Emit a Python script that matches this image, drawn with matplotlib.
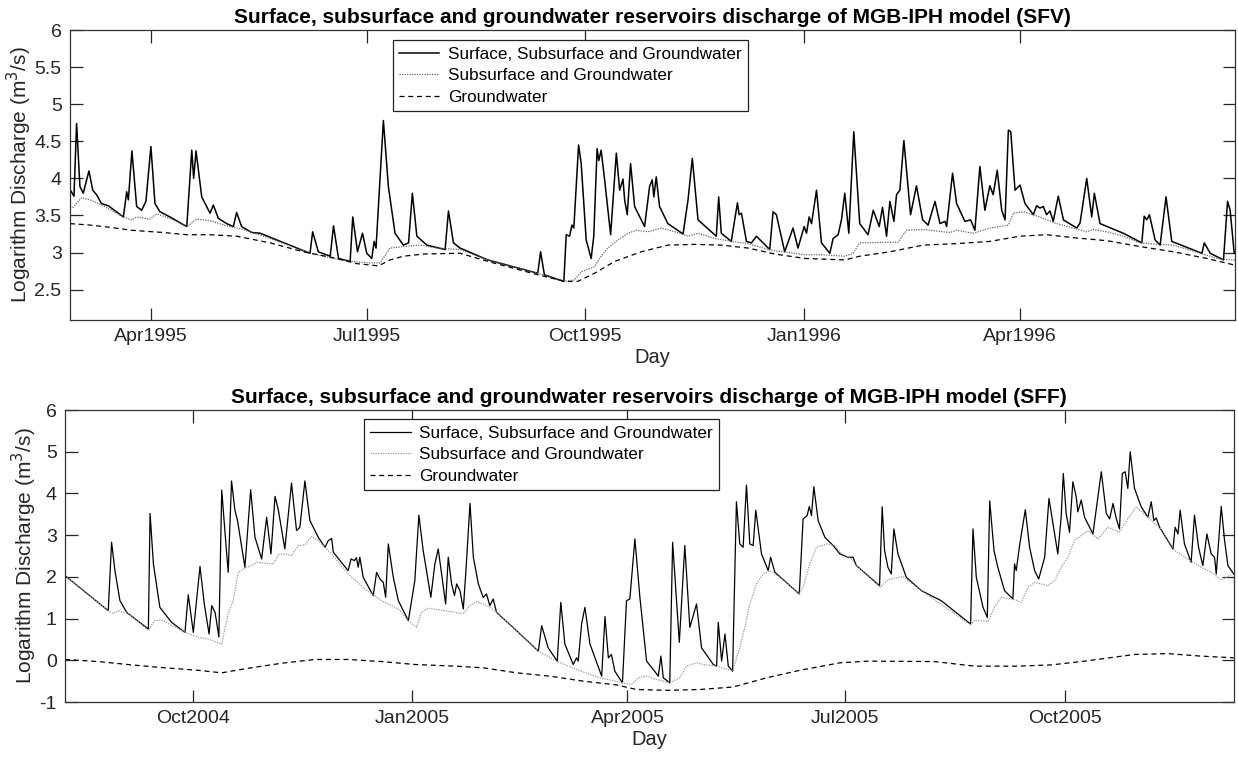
import datetime as dt
import matplotlib
matplotlib.use("Agg")
import matplotlib.pyplot as plt
import matplotlib.dates as mdates
from matplotlib.ticker import FormatStrFormatter

# ---- SFV (top panel): days counted from 1995-02-26 ----
sfv_start = dt.datetime(1995, 2, 26)

sfv_total_days = [0, 1.7, 2.8, 4.2, 5.6, 8.0, 9.6, 11.2, 13.3, 16.2, 22.5, 23.9, 24.6, 26.1, 28.1, 30.2,
                  32.0, 34.1, 35.8, 37.9, 42.1, 49.2, 51.3, 52.1, 53.1, 55.5, 59.0, 60.4, 62.5, 66.0, 68.8,
                  70.2, 72.3, 76.5, 80.1, 101.1, 102.2, 104.6, 109.6, 111.0, 113.1, 118.0, 119.1, 121.1,
                  123.2, 125.0, 127.1, 128.1, 128.9, 132.0, 134.1, 136.9, 140.4, 142.6, 144.2, 146.1,
                  150.3, 158.0, 159.4, 161.5, 164.3, 176.0, 197.0, 198.2, 199.8, 208.0, 209.0, 210.4,
                  211.4, 212.2, 214.2, 215.3, 217.4, 219.5, 220.6, 222.0, 222.7, 223.7, 225.1, 227.7,
                  230.1, 231.5, 232.9, 233.6, 234.7, 236.1, 237.8, 242.0, 244.1, 245.2, 245.9, 246.9,
                  248.3, 251.8, 258.2, 260.3, 262.1, 264.5, 272.2, 273.2, 274.3, 278.5, 281.1, 281.8,
                  282.8, 284.9, 287.0, 289.1, 294.7, 296.1, 297.5, 301.0, 304.5, 306.6, 309.2, 310.2,
                  311.3, 312.3, 314.4, 316.5, 320.0, 321.4, 323.5, 324.9, 326.3, 328.0, 330.1, 332.6,
                  336.1, 338.3, 340.8, 342.2, 343.9, 345.3, 347.0, 348.1, 349.5, 351.2, 354.0, 356.5,
                  359.1, 361.4, 364.3, 366.4, 368.5, 369.2, 371.7, 373.4, 376.9, 379.3, 381.1, 383.2,
                  385.3, 387.4, 388.8, 390.5, 392.4, 393.8, 395.2, 396.2, 398.0, 400.1, 402.2, 405.7,
                  407.1, 408.5, 409.9, 411.3, 412.7, 414.1, 416.2, 418.4, 424.0, 425.4, 428.2, 430.3,
                  431.4, 433.8, 443.6, 451.4, 452.4, 453.5, 454.6, 457.0, 459.1, 461.6, 464.0, 476.7,
                  477.7, 480.2, 485.8, 487.5, 488.6, 490.3]
sfv_total = [3.85, 3.76, 4.74, 3.89, 3.80, 4.10, 3.84, 3.78, 3.66, 3.63, 3.48, 3.82, 3.71, 4.37, 3.62, 3.57,
             3.69, 4.43, 3.66, 3.55, 3.48, 3.35, 4.38, 4.00, 4.37, 3.75, 3.53, 3.64, 3.46, 3.39, 3.35,
             3.54, 3.35, 3.27, 3.26, 2.99, 3.28, 3.01, 2.95, 3.36, 2.92, 2.88, 3.48, 3.01,
             3.26, 2.99, 2.92, 3.15, 3.06, 4.78, 3.89, 3.26, 3.10, 3.13, 3.80, 3.22,
             3.10, 3.04, 3.56, 3.13, 3.06, 2.90, 2.72, 3.01, 2.70, 2.61, 3.24, 3.22,
             3.37, 3.33, 4.45, 4.20, 3.17, 2.92, 3.22, 4.40, 4.24, 4.38, 4.00, 3.24,
             4.34, 3.84, 3.99, 3.71, 3.51, 4.20, 3.62, 3.35, 3.89, 3.98, 3.75, 4.02,
             3.62, 3.39, 3.25, 3.71, 4.27, 3.44, 3.22, 3.75, 3.26, 3.15, 3.67, 3.51,
             3.53, 3.15, 3.13, 3.22, 3.04, 3.55, 3.51, 3.01, 3.33, 3.06, 3.35, 3.26,
             3.48, 3.39, 3.84, 3.13, 2.99, 3.19, 3.24, 3.44, 3.80, 3.26, 4.63, 3.39,
             3.24, 3.57, 3.35, 3.61, 3.22, 3.69, 3.42, 3.78, 3.84, 4.51, 3.51, 3.90,
             3.44, 3.37, 3.69, 3.39, 3.42, 3.35, 4.07, 3.66, 3.42, 3.44, 3.30, 4.16,
             3.57, 3.90, 3.78, 4.11, 3.57, 3.44, 4.65, 4.63, 3.84, 3.91, 3.66, 3.51,
             3.63, 3.60, 3.62, 3.51, 3.56, 3.42, 3.76, 3.44, 3.33, 3.40, 4.00, 3.48,
             3.80, 3.39, 3.26, 3.13, 3.49, 3.44, 3.51, 3.17, 3.10, 3.75, 3.15, 2.99,
             3.13, 2.99, 2.90, 3.69, 3.57, 2.99]

sfv_sub_days = [0, 1.5, 4.9, 8.4, 14.0, 22.5, 26.0, 28.1, 33.7, 36.5, 42.1, 49.2, 53.4, 59.0, 66.0, 73.0,
                84.3, 101.1, 112.4, 118.0, 126.4, 130.6, 134.8, 140.4, 147.5, 154.5, 164.3, 176.0, 197.0,
                208.0, 212.5, 215.3, 220.9, 223.7, 226.5, 230.8, 235.0, 238.5, 243.4, 249.0, 254.7,
                260.3, 264.5, 271.5, 278.5, 285.6, 295.4, 309.5, 316.5, 326.3, 329.8, 332.6, 348.8,
                352.3, 359.3, 370.6, 373.4, 380.4, 387.4, 395.2, 397.3, 401.5, 408.5, 415.5, 422.6,
                428.2, 431.0, 436.6, 443.6, 450.7, 457.7, 464.7, 476.0, 484.4, 490.6]
sfv_sub = [3.61, 3.61, 3.74, 3.71, 3.63, 3.48, 3.44, 3.48, 3.45, 3.52, 3.46, 3.35, 3.45, 3.43, 3.36, 3.31,
           3.19, 2.99, 2.91, 2.88, 2.86, 2.86, 3.06, 3.08, 3.10, 3.06, 3.04, 2.90, 2.72,
           2.61, 2.63, 2.74, 2.81, 2.95, 3.06, 3.17, 3.26, 3.30, 3.28, 3.33, 3.28,
           3.22, 3.26, 3.19, 3.15, 3.12, 3.03, 2.97, 2.97, 2.95, 2.99, 3.13, 3.14,
           3.30, 3.31, 3.27, 3.30, 3.26, 3.33, 3.37, 3.53, 3.55, 3.48, 3.39, 3.33,
           3.28, 3.31, 3.28, 3.22, 3.13, 3.11, 3.10, 2.99, 2.91, 2.90]

sfv_gw_days = [0, 8.4, 16.9, 26.0, 39.3, 49.2, 59.0, 70.2, 84.3, 98.3, 112.4, 120.8, 129.9, 134.8, 140.4,
               148.9, 164.3, 176.0, 197.0, 208.5, 213.8, 220.9, 229.4, 240.6, 251.8, 263.1, 274.3,
               285.6, 296.8, 309.5, 326.3, 332.6, 345.3, 359.3, 373.4, 387.4, 400.1, 411.3, 422.6,
               436.6, 450.7, 464.7, 478.8, 490.6]
sfv_gw = [3.39, 3.37, 3.34, 3.30, 3.27, 3.24, 3.24, 3.22, 3.13, 3.01, 2.92, 2.85, 2.82, 2.90, 2.95,
          2.98, 2.99, 2.88, 2.70, 2.61, 2.61, 2.72, 2.88, 3.01, 3.10, 3.11, 3.10,
          3.06, 2.98, 2.92, 2.90, 2.95, 3.01, 3.10, 3.12, 3.15, 3.22, 3.24, 3.20,
          3.16, 3.08, 3.01, 2.92, 2.83]

# ---- SFF (bottom panel): days counted from 2004-08-08 ----
sff_start = dt.datetime(2004, 8, 8)

sff_total_days = [0.6, 18.7, 20.1, 21.5, 23.6, 26.4, 35.5, 36.2, 37.6, 40.3, 45.2, 50.8, 52.2, 54.3, 57.1,
                  58.9, 60.9, 62.0, 63.4, 64.1, 65.0, 66.2, 67.5, 68.9, 70.3, 71.7, 72.8, 75.9, 78.3,
                  80.1, 82.9, 85.0, 86.8, 88.5, 89.9, 92.6, 95.4, 97.5, 98.9, 101.0, 103.1, 106.6,
                  109.4, 110.8, 112.2, 112.9, 119.1, 120.3, 121.7, 122.6, 123.3, 124.0, 125.4, 129.6,
                  131.0, 132.4, 133.8, 134.8, 135.9, 138.0, 140.1, 144.3, 147.0, 148.7, 150.5, 151.9,
                  153.7, 155.4, 156.8, 158.2, 159.9, 161.0, 162.4, 163.6, 164.5, 165.9, 167.3, 168.4,
                  170.1, 171.5, 173.6, 175.6, 177.0, 178.4, 179.8, 181.2, 189.6, 198.7, 200.1, 202.8,
                  206.6, 208.1, 209.8, 213.3, 214.7, 215.4, 216.8, 218.2, 220.3, 225.2, 226.6, 228.0,
                  229.3, 230.7, 233.9, 235.6, 237.0, 239.1, 241.2, 244.0, 246.8, 248.9, 250.0, 251.0,
                  253.7, 254.9, 257.7, 260.0, 262.1, 264.9, 267.0, 271.9, 273.3, 274.0, 275.4, 276.8,
                  278.2, 280.0, 281.6, 283.0, 284.4, 285.8, 287.2, 288.6, 289.7, 292.1, 294.9, 295.9,
                  297.7, 307.9, 309.5, 311.2, 312.1, 313.0, 314.0, 315.8, 318.6, 322.1, 324.9, 328.3,
                  330.4, 331.8, 341.5, 342.6, 343.6, 345.0, 346.4, 347.5, 349.2, 352.7, 359.0, 367.3,
                  379.6, 380.6, 382.0, 384.8, 386.6, 387.6, 389.4, 391.0, 393.8, 397.3, 398.0, 398.7,
                  400.1, 402.5, 404.3, 406.4, 408.1, 410.6, 412.4, 414.1, 416.1, 417.5, 418.4, 419.6,
                  421.0, 422.4, 423.8, 424.5, 425.9, 427.3, 430.8, 432.9, 434.3, 436.4, 437.8, 439.2,
                  440.6, 441.9, 443.1, 444.3, 445.4, 446.4, 448.2, 451.0, 453.8, 455.2, 456.3, 457.3,
                  458.7, 464.3, 465.2, 466.4, 467.3, 469.1, 471.9, 473.3, 475.0, 476.8, 478.5, 480.3,
                  481.7, 482.4, 484.5, 485.9, 487.3, 489.7]
sff_total = [2.03, 1.19, 2.83, 2.15, 1.43, 1.15, 0.75, 3.52, 2.31, 1.27, 0.91, 0.67, 1.57, 0.67, 2.25,
             1.35, 0.63, 1.31, 1.15, 0.90, 0.56, 4.08, 3.11, 2.11, 4.30, 3.60, 3.35, 2.23, 4.09,
             2.95, 2.43, 3.43, 2.55, 3.93, 3.60, 2.67, 4.25, 3.11, 3.19, 4.30, 3.35, 2.95,
             2.71, 2.87, 2.92, 2.59, 2.15, 2.43, 2.39, 2.46, 2.23, 2.47, 1.99, 1.55,
             2.11, 1.95, 1.87, 1.51, 2.79, 1.99, 1.43, 0.95, 1.91, 3.48, 2.63, 2.15,
             1.51, 2.31, 2.67, 2.07, 1.35, 2.47, 1.83, 1.55, 1.83, 1.67, 1.23, 2.15,
             3.76, 2.47, 1.83, 1.51, 1.59, 1.31, 1.47, 1.15, 0.71, 0.22, 0.83, 0.30,
             -0.02, 1.39, 0.39, -0.10, 0.06, -0.02, 0.87, 1.27, 0.39, -0.38, 1.05, 0.06,
             0.14, -0.26, -0.54, 1.43, 1.47, 2.91, 1.51, -0.02, -0.22, -0.38, 0.10, -0.42,
             -0.54, 2.83, 0.43, 2.75, 0.79, 1.35, 0.30, -0.10, -0.14, 0.91, -0.02, 0.63,
             -0.14, -0.26, 3.80, 2.79, 2.71, 4.20, 2.79, 2.75, 3.60, 2.55, 2.15, 2.47,
             2.11, 1.59, 3.39, 3.47, 3.69, 3.47, 4.16, 3.35, 2.95, 2.75, 2.55, 2.47,
             2.47, 2.27, 1.79, 3.68, 2.63, 2.23, 2.07, 3.15, 2.55, 1.99, 1.67, 1.43,
             0.87, 3.15, 1.99, 1.27, 1.03, 3.82, 2.63, 2.23, 1.67, 1.47, 2.31, 2.15,
             2.75, 3.61, 2.71, 2.15, 1.95, 2.47, 3.88, 3.27, 2.55, 3.43, 4.48, 3.52,
             3.07, 4.28, 3.92, 3.56, 3.84, 3.43, 3.03, 3.92, 4.52, 3.52, 3.39, 3.76,
             3.39, 3.15, 4.48, 4.52, 4.12, 5.00, 4.12, 3.68, 3.43, 3.80, 3.35, 3.41,
             3.19, 2.67, 3.19, 3.03, 3.60, 2.79, 2.35, 3.48, 2.71, 2.27, 3.03, 2.55,
             2.47, 2.07, 3.69, 2.87, 2.27, 2.07]

sff_sub_days = [0.6, 18.7, 20.8, 22.9, 27.1, 35.5, 38.0, 41.0, 50.8, 56.4, 60.6, 66.2, 68.9, 71.0, 73.1,
                76.6, 78.7, 80.8, 84.3, 87.8, 89.9, 92.6, 95.4, 98.2, 101.0, 103.8, 106.6, 112.2,
                119.1, 126.1, 133.1, 140.1, 144.3, 147.7, 149.8, 152.6, 158.2, 163.8, 167.3, 170.1,
                172.9, 175.6, 178.4, 181.2, 189.6, 198.7, 206.3, 214.7, 224.5, 234.2, 237.7, 240.5,
                244.0, 248.2, 253.7, 257.9, 260.7, 264.9, 267.7, 273.3, 280.0, 283.0, 285.1, 287.2,
                290.0, 292.8, 295.6, 299.8, 307.9, 309.5, 312.3, 315.1, 319.3, 322.8, 324.9, 329.7,
                331.8, 341.8, 345.0, 351.3, 359.0, 379.6, 381.3, 386.9, 389.6, 392.4, 397.3, 400.8,
                403.6, 406.4, 412.0, 414.8, 417.5, 420.3, 423.1, 428.7, 432.9, 437.1, 441.9, 445.4,
                448.9, 453.8, 459.4, 465.0, 470.5, 476.1, 480.3, 484.5, 488.7]
sff_sub = [2.03, 1.19, 1.12, 1.19, 1.12, 0.72, 0.95, 0.97, 0.67, 0.55, 0.51, 0.39, 1.12, 1.43, 2.11,
           2.23, 2.27, 2.35, 2.33, 2.31, 2.54, 2.55, 2.51, 2.75, 2.77, 2.97, 2.87, 2.55,
           2.07, 1.71, 1.43, 1.23, 0.95, 0.79, 1.15, 1.25, 1.20, 1.15, 1.12, 1.31,
           1.41, 1.35, 1.27, 1.15, 0.71, 0.22, -0.02, -0.22, -0.42, -0.54, -0.58, -0.42,
           -0.38, -0.46, -0.54, -0.42, -0.14, -0.06, -0.10, -0.14, -0.26, 0.30, 0.79, 1.35,
           1.83, 2.07, 2.15, 1.99, 1.59, 1.75, 2.31, 2.71, 2.79, 2.75, 2.59, 2.43,
           2.27, 1.75, 1.93, 2.01, 1.67, 0.85, 0.96, 0.93, 1.27, 1.51, 1.47, 1.39,
           1.75, 1.87, 1.79, 1.91, 2.23, 2.47, 2.87, 3.11, 2.91, 3.19, 3.07, 3.39,
           3.68, 3.43, 3.15, 2.63, 2.43, 2.23, 2.11, 1.93, 2.05]

sff_gw_days = [0.6, 14.5, 28.5, 42.4, 56.4, 66.2, 77.3, 91.3, 105.2, 119.1, 133.1, 147.0, 163.8, 175.6,
               189.6, 203.5, 217.5, 231.4, 239.8, 252.4, 266.3, 280.2, 294.2, 308.1, 324.9, 336.6,
               364.5, 381.3, 399.4, 413.4, 427.3, 448.2, 462.2, 476.1, 489.7]
sff_gw = [0.02, -0.03, -0.11, -0.18, -0.24, -0.30, -0.19, -0.07, 0.02, 0.02, -0.03, -0.10, -0.14, -0.18,
          -0.30, -0.38, -0.50, -0.59, -0.70, -0.72, -0.70, -0.64, -0.42, -0.24, -0.06, -0.02,
          -0.03, -0.14, -0.14, -0.11, -0.02, 0.14, 0.16, 0.10, 0.06]

labels = ["Surface, Subsurface and Groundwater", "Subsurface and Groundwater", "Groundwater"]


def to_dates(start, days):
    return [mdates.date2num(start) + d for d in days]


plt.rcParams['font.family'] = ['Liberation Sans', 'DejaVu Sans']
plt.rcParams['axes.unicode_minus'] = False
text_color = '#262626'

fig = plt.figure(figsize=(12.38, 7.61), dpi=100)
ax1 = fig.add_axes([0.0565, 0.5795, 0.941, 0.381])
ax2 = fig.add_axes([0.0525, 0.0775, 0.944, 0.3837])


def draw_panel(ax, start, tot_d, tot, sub_d, sub, gw_d, gw, sub_color, tot_lw, xlim, ylim, yticks, title, legend_xy):
    ax.plot(to_dates(start, tot_d), tot, color='black', lw=tot_lw, label=labels[0])
    ax.plot(to_dates(start, sub_d), sub, color=sub_color, lw=0.9, linestyle=(0, (1, 1)), label=labels[1])
    ax.plot(to_dates(start, gw_d), gw, color='black', lw=0.9, linestyle=(0, (4, 3)), label=labels[2])
    ax.set_xlim(mdates.date2num(start) + xlim[0], mdates.date2num(start) + xlim[1])
    ax.set_ylim(*ylim)
    ax.set_yticks(yticks)
    ax.yaxis.set_major_formatter(FormatStrFormatter('%g'))
    ax.xaxis.set_major_locator(mdates.MonthLocator(bymonth=[1, 4, 7, 10]))
    ax.xaxis.set_major_formatter(mdates.DateFormatter('%b%Y'))
    ax.tick_params(direction='in', length=9, width=0.9, top=True, right=True,
                   labelsize=14, colors=text_color, pad=6)
    for s in ax.spines.values():
        s.set_linewidth(0.9)
        s.set_color('#333333')
    ax.set_xlabel('Day', fontsize=14.5, color=text_color, labelpad=2)
    ax.set_ylabel('Logarithm Discharge (m$^3$/s)', fontsize=15, color=text_color, labelpad=0)
    ax.set_title(title, fontsize=15, fontweight='bold', color='black', pad=5)
    leg = ax.legend(loc='upper left', bbox_to_anchor=legend_xy, borderaxespad=0, fontsize=12.3,
                    frameon=True, fancybox=False, framealpha=1, edgecolor='#222222',
                    handlelength=2.35, labelspacing=0.38, borderpad=0.38, handletextpad=0.5)
    leg.get_frame().set_linewidth(0.9)


draw_panel(ax1, sfv_start, sfv_total_days, sfv_total, sfv_sub_days, sfv_sub, sfv_gw_days, sfv_gw,
           '#666666', 1.1, (0, 490.6), (2.09, 6), [2.5, 3, 3.5, 4, 4.5, 5, 5.5, 6],
           'Surface, subsurface and groundwater reservoirs discharge of MGB-IPH model (SFV)', (0.277, 0.9655))
draw_panel(ax2, sff_start, sff_total_days, sff_total, sff_sub_days, sff_sub, sff_gw_days, sff_gw,
           '#9a9a9a', 0.9, (0.6, 489.7), (-1, 6), [-1, 0, 1, 2, 3, 4, 5, 6],
           'Surface, subsurface and groundwater reservoirs discharge of MGB-IPH model (SFF)', (0.2558, 0.969))

fig.savefig('out.png', dpi=100)
